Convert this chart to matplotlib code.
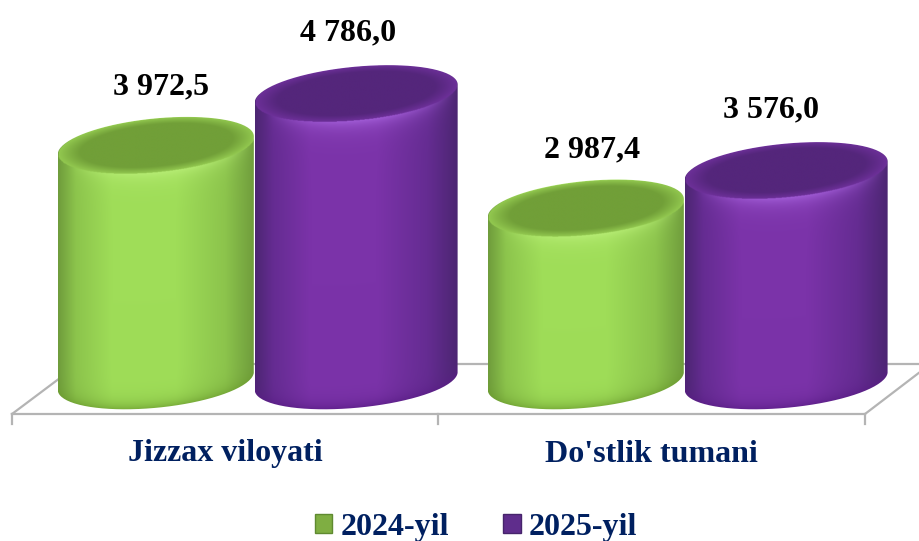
import numpy as np
import matplotlib
matplotlib.use("Agg")
import matplotlib.pyplot as plt
from matplotlib.colors import to_rgb
from matplotlib.lines import Line2D
from matplotlib.patches import Patch, PathPatch
from matplotlib.path import Path

# Data
categories = ["Jizzax viloyati", "Do'stlik tumani"]
series_names = ["2024-yil", "2025-yil"]
values_2024 = [3972.5, 2987.4]
values_2025 = [4786.0, 3576.0]
value_labels_2024 = ["3 972,5", "2 987,4"]
value_labels_2025 = ["4 786,0", "3 576,0"]

# Styles
W, H = 920, 541
NAVY = "#002060"
GREY = "#b4b4b4"
FLOOR_VALUE = 270
HALF_W = [0.228, 0.236]
OFFSET = [-0.233, 0.233]
LABEL_DX = [[0.012, -0.018], [0.014, -0.036]]
B_PX = 27   # half height of ellipse
S_PX = 9    # tilt of ellipse

green = dict(edge="#6f9c3c", side="#8cc44c", light="#9fdd58", cap="#719f38",
             rim="#93c950", glow="#b9ee78", foot="#6d9e30", legend="#7fae42")
purple = dict(edge="#4c2672", side="#652c92", light="#7b33a9", cap="#54267b",
              rim="#6d3099", glow="#a662dc", foot="#5a1d86", legend="#5f2d8c")

plt.rcParams["font.family"] = ["Liberation Serif", "DejaVu Serif"]
plt.rcParams["font.weight"] = "bold"

fig = plt.figure(figsize=(W / 100, H / 100), dpi=100)
ax = fig.add_axes([0, 0, 1, 1])
ax.set_axis_off()

# one category = 430 px, value axis = 0.0636 px per unit, zero at y=398 px
x_lim = (-256 / 430, (W - 256) / 430)
y_lim = ((398 - H) / 0.0636, 398 / 0.0636)
k = H / (y_lim[1] - y_lim[0])


def px(x, y):
    return x / W, 1 - y / H


# Floor of the 3D chart
floor = [([12, 865], [414, 414]), ([12, 60], [414, 378]), ([865, 920], [414, 372]),
         ([60, 920], [364, 364]), ([12, 12], [414, 424]), ([438, 438], [414, 424]),
         ([865, 865], [414, 424])]
for xs, ys in floor:
    fx, fy = px(np.array(xs), np.array(ys))
    fig.add_artist(Line2D(fx, fy, color=GREY, lw=1.6, zorder=0))


def ramp(u, c):
    stops = [-1, -0.82, -0.45, 0.2, 0.7, 1]
    cols = [c["edge"], c["side"], c["light"], c["light"], c["side"], c["edge"]]
    rgb = np.array([to_rgb(col) for col in cols])
    return np.stack([np.interp(u, stops, rgb[:, i]) for i in range(3)], axis=-1)


def cylinder(cx, a, top, c, z):
    b = B_PX / k
    s = S_PX / k
    xs = np.linspace(cx - a, cx + a, 300)
    ys = np.linspace(FLOOR_VALUE - b - s, top + b + s, 700)
    X, Y = np.meshgrid(xs, ys)
    u = (X - cx) / a
    rt = np.sqrt(np.clip(1 - u ** 2, 0, 1))

    img = ramp(u, c)

    # bright band under the lid
    h = ((top + s * u - b * rt) - Y) * k
    glow = np.exp(-np.clip(h, 0, None) / 9) * np.clip(1 - 1.1 * (u - 0.05) ** 2, 0, 1)
    glow_col = np.array(to_rgb(c["glow"]))
    img = img + (glow_col - img) * glow[..., None] * 0.85

    # darker foot of the cylinder
    h2 = (Y - (FLOOR_VALUE + s * u - b * rt)) * k
    foot = np.exp(-np.clip(h2, 0, None) / 7)
    foot_col = np.array(to_rgb(c["foot"]))
    img = img + (foot_col - img) * foot[..., None] * 0.75

    # lid
    d = u ** 2 + ((Y - top - s * u) / b) ** 2
    t = np.clip((d - 0.6) / 0.4, 0, 1)[..., None]
    lid = np.array(to_rgb(c["cap"])) * (1 - t) + np.array(to_rgb(c["rim"])) * t
    img = np.where(d[..., None] < 1, lid, img)

    im = ax.imshow(img, extent=(xs[0], xs[-1], ys[0], ys[-1]), origin="lower",
                   aspect="auto", zorder=z, interpolation="bilinear")

    # outline of the cylinder
    t1 = np.linspace(np.pi, 0, 80)
    back_x = cx + a * np.cos(t1)
    back_y = top + b * np.sin(t1) + s * np.cos(t1)
    t2 = np.linspace(0, -np.pi, 80)
    front_x = cx + a * np.cos(t2)
    front_y = FLOOR_VALUE + b * np.sin(t2) + s * np.cos(t2)
    verts = np.column_stack([np.r_[back_x, front_x], np.r_[back_y, front_y]])
    clip = PathPatch(Path(np.vstack([verts, verts[0]])), transform=ax.transData)
    im.set_clip_path(clip)


for i in range(len(categories)):
    cylinder(i + OFFSET[0], HALF_W[0], values_2024[i], green, 2 + i * 2)
    cylinder(i + OFFSET[1], HALF_W[1], values_2025[i], purple, 3 + i * 2)

    ax.text(i + OFFSET[0] + LABEL_DX[i][0], values_2024[i] + 915, value_labels_2024[i],
            ha="center", va="center", fontsize=23, color="black", zorder=10)
    ax.text(i + OFFSET[1] + LABEL_DX[i][1], values_2025[i] + 960, value_labels_2025[i],
            ha="center", va="center", fontsize=23, color="black", zorder=10)

ax.set_xlim(x_lim)
ax.set_ylim(y_lim)

# Category labels
for xc, name in zip([225, 651], categories):
    fx, fy = px(xc, 454)
    fig.text(fx, fy, name, ha="center", va="center", fontsize=23, color=NAVY)

# Legend
handles = [Patch(facecolor=green["legend"], edgecolor="#5f8a30", lw=1),
           Patch(facecolor=purple["legend"], edgecolor="#46246b", lw=1)]
leg = fig.legend(handles, series_names, loc="center", bbox_to_anchor=px(476, 527),
                 ncol=2, frameon=False, fontsize=23, labelcolor=NAVY,
                 handlelength=0.55, handleheight=0.55, handletextpad=0.25,
                 columnspacing=1.7, borderpad=0, borderaxespad=0)

fig.savefig("out.png", dpi=100)
